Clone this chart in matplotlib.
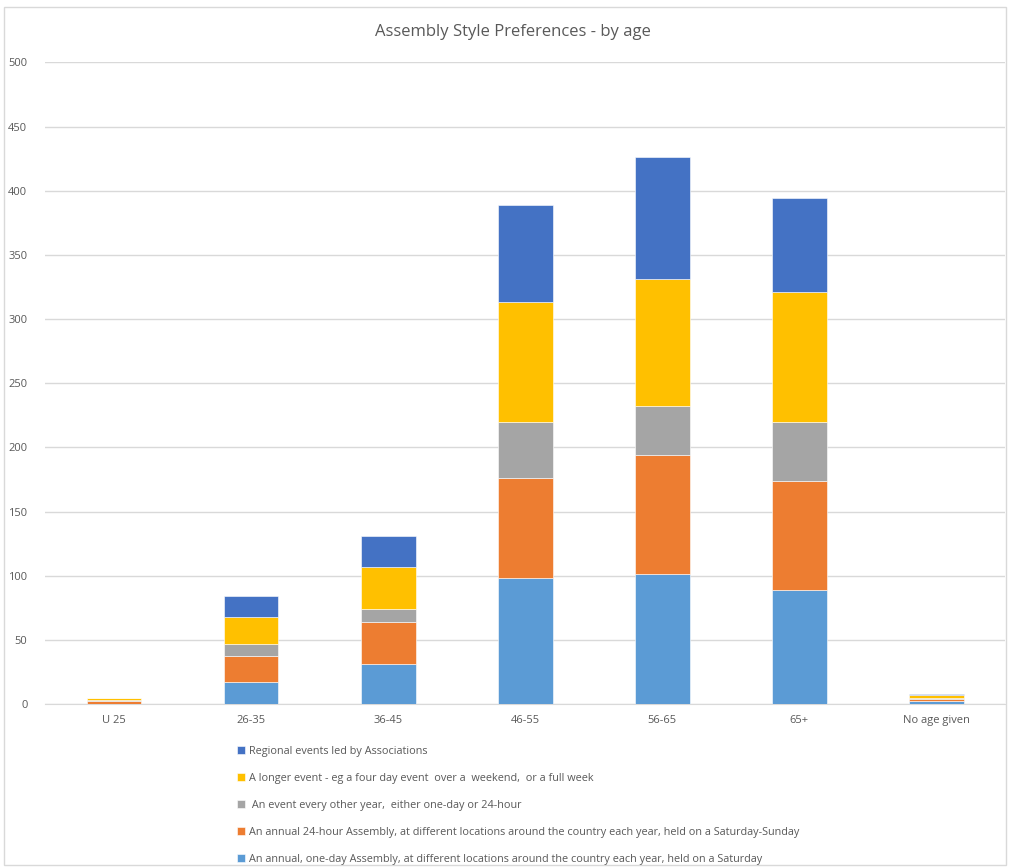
import matplotlib
matplotlib.use("Agg")
import matplotlib.pyplot as plt
from matplotlib.patches import Rectangle
import numpy as np

plt.rcParams['font.family'] = ['Open Sans', 'DejaVu Sans']

# data
ages = ['U 25', '26-35', '36-45', '46-55', '56-65', '65+', 'No age given']
one_day = [0, 17, 31, 98, 101, 89, 2]
annual_24h = [2, 20, 33, 78, 93, 85, 2]
every_other = [1, 10, 10, 44, 38, 46, 1]
longer_event = [2, 21, 33, 93, 99, 101, 2]
regional = [0, 16, 24, 76, 95, 73, 1]

series_labels = [
    'An annual, one-day Assembly, at different locations around the country each year, held on a Saturday',
    'An annual 24-hour Assembly, at different locations around the country each year, held on a Saturday-Sunday',
    ' An event every other year,  either one-day or 24-hour',
    'A longer event - eg a four day event  over a  weekend,  or a full week',
    'Regional events led by Associations',
]
colors = ['#5B9BD5', '#ED7D31', '#A5A5A5', '#FFC000', '#4472C4']

txt = '#595959'
fig = plt.figure(figsize=(10.1, 8.68), dpi=100)
ax = fig.add_axes([0.045, 0.189, 0.95, 0.739])

x = np.arange(len(ages))
bottom = np.zeros(len(ages))
handles = []
for vals, lab, col in zip([one_day, annual_24h, every_other, longer_event, regional],
                          series_labels, colors):
    b = ax.bar(x, vals, 0.4, bottom=bottom, color=col, label=lab,
               edgecolor='white', linewidth=0.4, zorder=3)
    handles.append(b)
    bottom += np.array(vals)

ax.set_xlim(-0.5, 6.5)
ax.set_ylim(0, 500)
ax.set_yticks(range(0, 501, 50))
ax.set_xticks(x)
ax.set_xticklabels(ages)
ax.yaxis.grid(True, color='#d9d9d9', linewidth=1, zorder=0)
for s in ['top', 'right', 'left']:
    ax.spines[s].set_visible(False)
ax.spines['bottom'].set_color('#d9d9d9')
ax.tick_params(axis='both', length=0, labelsize=8, colors=txt)
ax.tick_params(axis='x', pad=8)
ax.tick_params(axis='y', pad=13)

fig.text(0.508, 0.963, 'Assembly Style Preferences - by age', ha='center', va='center',
         fontsize=12, color=txt)

fig.legend(handles[::-1], series_labels[::-1], loc='upper left',
           bbox_to_anchor=(0.225, 0.152), frameon=False, fontsize=7.8,
           labelcolor=txt, handlelength=0.7, handleheight=0.7, handletextpad=0.4,
           labelspacing=1.48)

fig.patches.append(Rectangle((0.004, 0.003), 0.992, 0.989, transform=fig.transFigure,
                             fill=False, edgecolor='#d9d9d9', linewidth=1))

fig.savefig('out.png', dpi=100)
